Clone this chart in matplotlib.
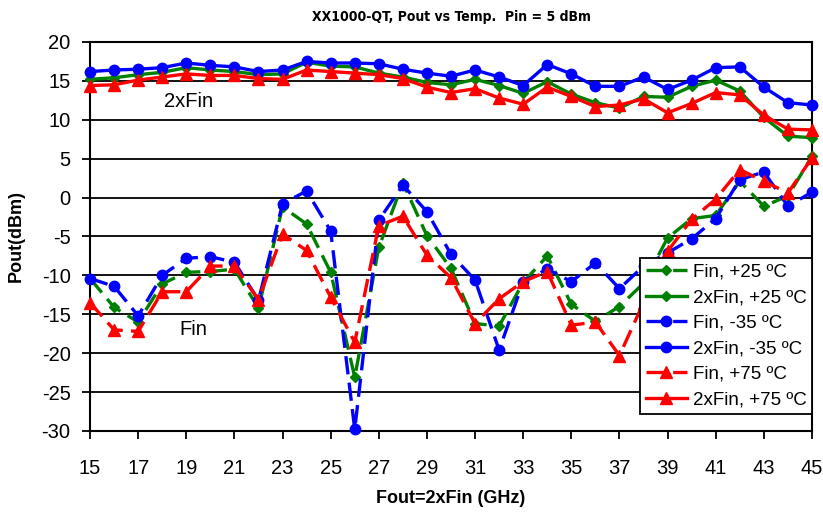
import numpy as np
import matplotlib
matplotlib.use("Agg")
import matplotlib.pyplot as plt

plt.rcParams['font.family'] = ['Liberation Sans', 'DejaVu Sans']
plt.rcParams['axes.unicode_minus'] = False

# Frecuencia de salida (GHz)
fout = list(range(15, 46))

# Potencia Fin (dBm)
fin_p25 = [-10.4, -14.1, -16.0, -11.1, -9.6, -9.5, -9.2, -14.2, -1.2, -3.4, -9.6, -23.1, -6.4, 1.9, -4.9, -9.1,
           -16.2, -16.5, -10.9, -7.5, -13.7, -15.9, -14.0, -11.0, -5.2, -2.7, -2.3, 2.1, -1.1, 0.2, 5.3]
fin_m35 = [-10.4, -11.4, -15.2, -10.0, -7.8, -7.6, -8.3, -13.2, -0.8, 0.85, -4.3, -29.8, -2.9, 1.6, -1.8, -7.3,
           -10.6, -19.6, -10.8, -9.2, -10.8, -8.4, -11.7, -8.8, -7.1, -5.3, -2.7, 2.3, 3.3, -1.1, 0.7]
fin_p75 = [-13.5, -17.0, -17.2, -12.1, -12.1, -8.8, -8.8, -13.1, -4.7, -6.8, -12.8, -18.6, -3.6, -2.4, -7.4, -10.3,
           -16.2, -13.0, -10.8, -9.5, -16.4, -16.0, -20.3, -13.5, -6.9, -2.8, -0.2, 3.6, 2.1, 0.6, 5.1]

# Potencia 2xFin (dBm)
x2_p25 = [15.2, 15.4, 15.8, 16.1, 16.7, 16.4, 16.2, 15.8, 15.9, 17.4, 16.9, 16.8, 16.0, 15.5, 14.8, 14.5,
          15.2, 14.4, 13.4, 14.9, 13.3, 12.2, 11.5, 13.0, 12.9, 14.3, 15.1, 13.7, 10.3, 7.9, 7.7]
x2_m35 = [16.2, 16.4, 16.5, 16.7, 17.3, 17.0, 16.8, 16.2, 16.4, 17.5, 17.3, 17.3, 17.2, 16.5, 16.0, 15.6,
          16.4, 15.5, 14.4, 17.1, 15.9, 14.3, 14.3, 15.5, 13.9, 15.1, 16.7, 16.8, 14.2, 12.2, 11.9]
x2_p75 = [14.4, 14.5, 15.1, 15.5, 15.9, 15.7, 15.7, 15.3, 15.2, 16.4, 16.2, 16.0, 15.8, 15.3, 14.2, 13.5,
          14.0, 12.8, 12.0, 14.2, 13.0, 11.7, 11.9, 12.7, 10.9, 12.1, 13.5, 13.2, 10.6, 8.8, 8.7]

labels = ["Fin, +25 \u00baC", "2xFin, +25 \u00baC", "Fin, -35 \u00baC",
          "2xFin, -35 \u00baC", "Fin, +75 \u00baC", "2xFin, +75 \u00baC"]

fig = plt.figure(figsize=(8.23, 5.14), dpi=100)
ax = fig.add_axes([0.1094, 0.1615, 0.8772, 0.7568])

dash = (0, (5.5, 2.5))
series = [
    (fin_p25, "#008000", "D", 5, dash),
    (x2_p25, "#008000", "D", 5, "-"),
    (fin_m35, "#0000FF", "o", 7.5, dash),
    (x2_m35, "#0000FF", "o", 7.5, "-"),
    (fin_p75, "#FF0000", "^", 8, dash),
    (x2_p75, "#FF0000", "^", 8, "-"),
]
for (y, c, m, ms, ls), lab in zip(series, labels):
    ax.plot(fout, y, color=c, marker=m, markersize=ms, linestyle=ls, linewidth=2.4,
            label=lab, clip_on=False, zorder=3)

ax.set_xlim(15, 45)
ax.set_ylim(-30, 20)
ax.set_xticks(range(15, 46, 2))
ax.set_yticks(range(-30, 21, 5))
ax.yaxis.grid(True, color="black", linewidth=1.3)
ax.set_axisbelow(True)
for s in ax.spines.values():
    s.set_linewidth(1.5)
ax.tick_params(axis="both", labelsize=14.5, direction="out", length=6, width=1.3)
ax.tick_params(axis="x", pad=14)
ax.tick_params(axis="y", pad=8)

ax.text(19.1, 12.3, "2xFin", fontsize=14.5, ha="center", va="center")
ax.text(19.3, -16.9, "Fin", fontsize=14.5, ha="center", va="center")

ax.set_xlabel("Fout=2xFin (GHz)", fontsize=13, fontweight="bold", labelpad=9)
ax.set_ylabel("Pout(dBm)", fontsize=13, fontweight="bold", labelpad=12)
fig.text(0.549, 0.966, "XX1000-QT, Pout vs Temp.  Pin = 5 dBm", fontsize=10,
         fontweight="bold", fontstretch="condensed", ha="center", va="center",
         family=["DejaVu Sans"])

leg = ax.legend(loc="upper left", bbox_to_anchor=(0.762, 0.445), fontsize=13.5,
                fancybox=False, framealpha=1, edgecolor="black", borderpad=0.3,
                labelspacing=0.45, handlelength=2.2, handletextpad=0.3, borderaxespad=0)
leg.get_frame().set_linewidth(1.3)
leg.set_zorder(5)

plt.savefig("out.png", dpi=100)
